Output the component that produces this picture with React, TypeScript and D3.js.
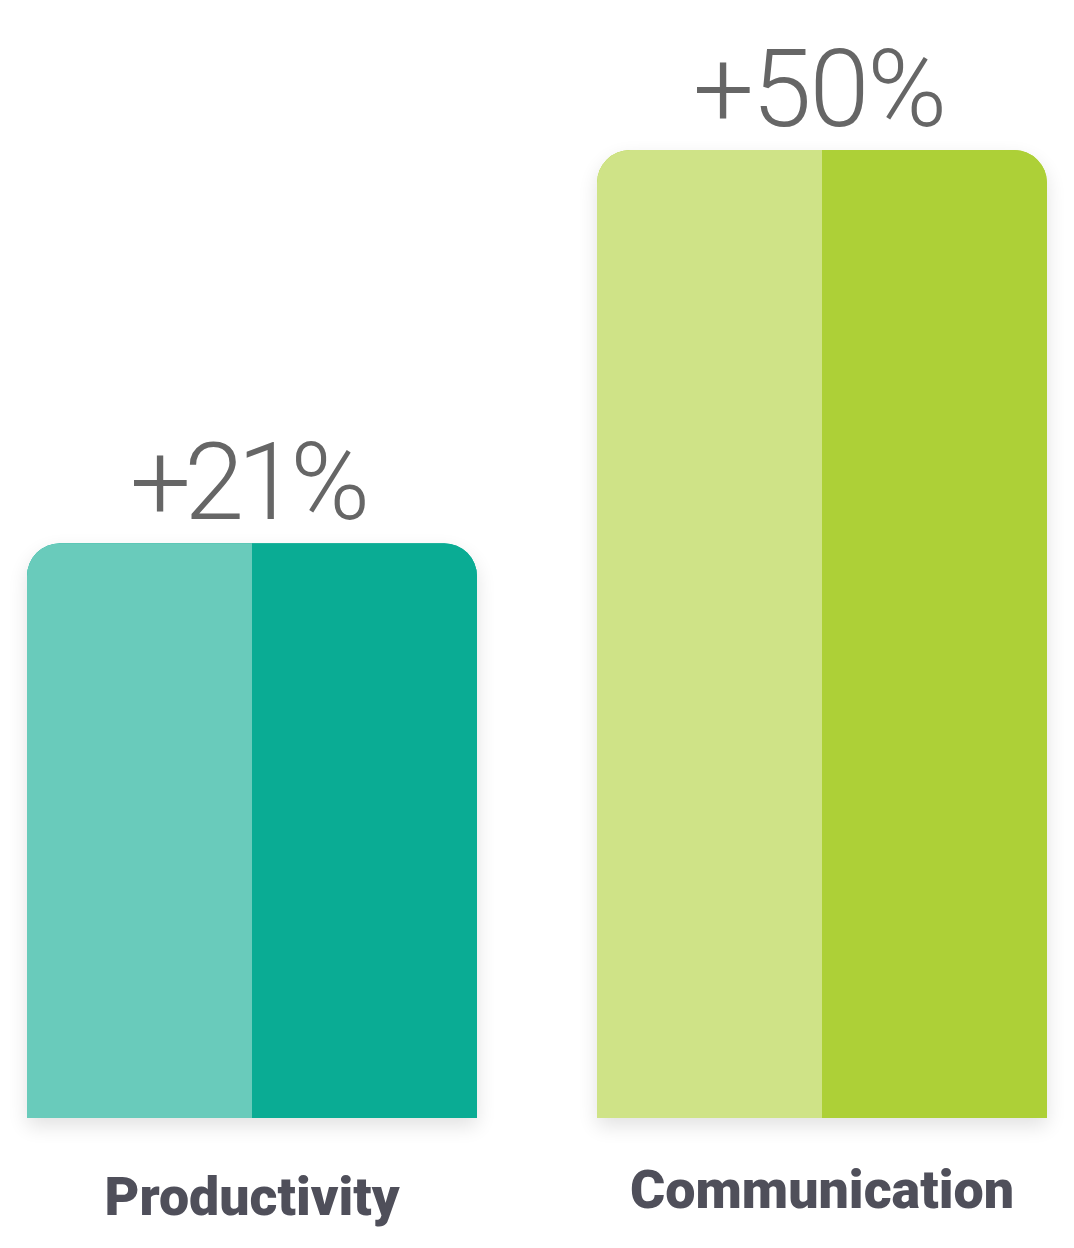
import React from 'react';
import * as d3 from 'd3';

const categories = ['Productivity', 'Communication'];
const values = [21, 50];
const valueLabels = ['+21%', '+50%'];
const lightColors = ['#69cbbb', '#cfe387'];
const darkColors = ['#0aac94', '#add037'];

const W = 1074;
const H = 1248;

const App: React.FC = () => {
  const x = d3.scaleBand<string>()
    .domain(categories)
    .range([27, 1047])
    .paddingInner(120 / 570)
    .paddingOuter(0);

  // baseline is not zero in the original artwork
  const y = d3.scaleLinear().domain([-21.4, 50]).range([1118, 150]);

  const r = 33;
  const barPath = (x0: number, y0: number, w: number, y1: number) => {
    const p = d3.path();
    p.moveTo(x0, y1);
    p.lineTo(x0, y0 + r);
    p.arcTo(x0, y0, x0 + r, y0, r);
    p.lineTo(x0 + w - r, y0);
    p.arcTo(x0 + w, y0, x0 + w, y0 + r, r);
    p.lineTo(x0 + w, y1);
    p.closePath();
    return p.toString();
  };

  const valueWidths = [240, 254];
  const labelWidths = [295, 384];
  const labelBaselines = [1215, 1208];

  return (
    <svg width={W} height={H} style={{ position: 'absolute', left: 0, top: 0, background: '#fff' }}>
      <defs>
        <filter id="shadow" x="-20%" y="-20%" width="140%" height="140%">
          <feGaussianBlur in="SourceAlpha" stdDeviation="10" />
          <feOffset dy="8" result="blur" />
          <feComponentTransfer>
            <feFuncA type="linear" slope="0.12" />
          </feComponentTransfer>
          <feMerge>
            <feMergeNode />
            <feMergeNode in="SourceGraphic" />
          </feMerge>
        </filter>
        {categories.map((c, i) => (
          <clipPath id={`clip-${i}`} key={c}>
            <path d={barPath(x(c)!, y(values[i]), x.bandwidth(), y(-21.4))} />
          </clipPath>
        ))}
      </defs>
      {categories.map((c, i) => {
        const bx = x(c)!;
        const bw = x.bandwidth();
        const top = y(values[i]);
        const bottom = y(-21.4);
        return (
          <g key={c}>
            <path d={barPath(bx, top, bw, bottom)} fill={darkColors[i]} filter="url(#shadow)" />
            <g clipPath={`url(#clip-${i})`}>
              <rect x={bx} y={top} width={bw / 2} height={bottom - top} fill={lightColors[i]} />
              <rect x={bx + bw / 2} y={top} width={bw / 2} height={bottom - top} fill={darkColors[i]} />
            </g>
            <text
              x={bx + bw / 2 - 2}
              y={top - 24}
              textAnchor="middle"
              fontFamily="Roboto"
              fontWeight={300}
              fontSize={108}
              fill="#666666"
              textLength={valueWidths[i]}
              lengthAdjust="spacing"
            >
              {valueLabels[i]}
            </text>
            <text
              x={bx + bw / 2}
              y={labelBaselines[i]}
              textAnchor="middle"
              fontFamily="Roboto"
              fontWeight={900}
              fontSize={53}
              fill="#4f4f5a"
              textLength={labelWidths[i]}
              lengthAdjust="spacingAndGlyphs"
            >
              {c}
            </text>
          </g>
        );
      })}
    </svg>
  );
};

export default App;
